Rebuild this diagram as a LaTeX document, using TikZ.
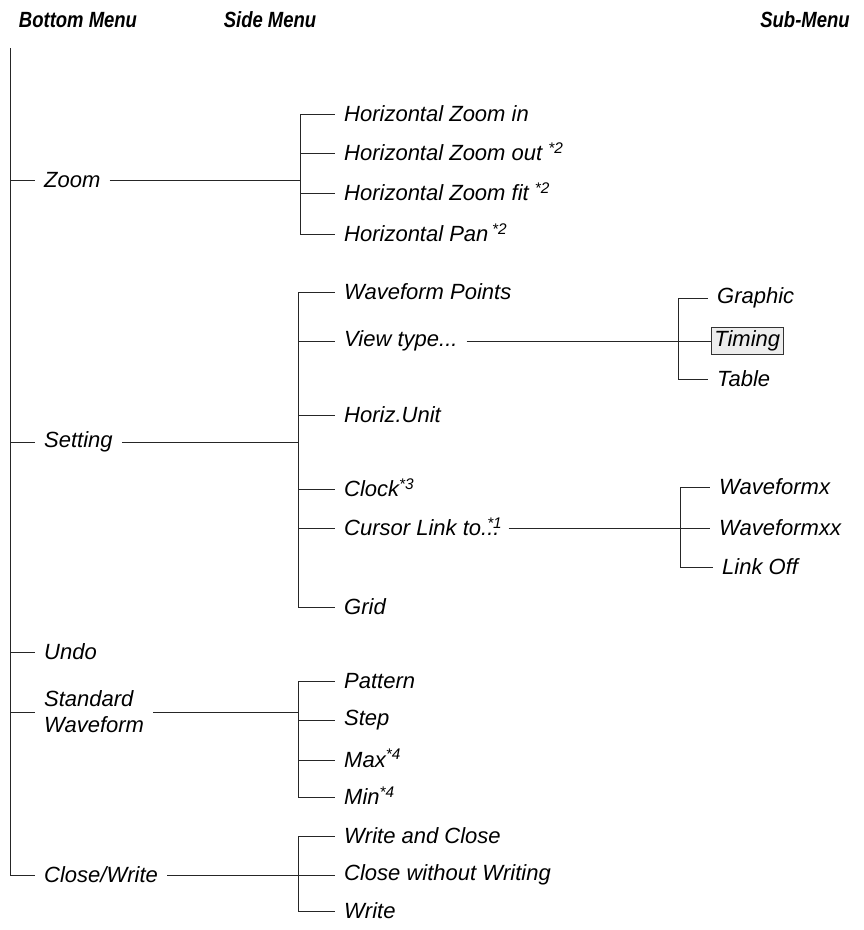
\documentclass[tikz,border=0pt]{standalone}
\usepackage{fontspec}
\setmainfont{Liberation Sans}
\newfontfamily\narrowfont[FakeStretch=0.84]{Liberation Sans}
\usepackage{tikz}

\newcommand\menufont{\fontsize{22}{26}\selectfont\itshape}
\newcommand\headfont{\narrowfont\fontsize{22}{25}\selectfont\bfseries\itshape}
\newcommand\note[1]{\smash{\textsuperscript{*#1}}}

\tikzset{
  menuitem/.style={anchor=west,inner xsep=9pt,inner ysep=2pt,font=\menufont},
  menuhead/.style={font=\headfont},
  tree/.style={line width=0.8pt,black!85},
  chosen/.style={menuitem,draw=black!80,fill=black!7,line width=0.6pt,inner xsep=3pt,inner ysep=3pt}
}

\begin{document}
\begin{tikzpicture}[x=1pt,y=-1pt]
  \useasboundingbox (0,0) rectangle (864,930);

  \node[menuhead] (hbottom) at (78,20) {Bottom Menu};
  \node[menuhead] (hside) at (270,20) {Side Menu};
  \node[menuhead] (hsub) at (805,20) {Sub-Menu};

  % bottom menu
  \coordinate (trunk) at (10,48);
  \node[menuitem] (zoom) at (35,180) {Zoom};
  \node[menuitem] (setting) at (35,442) {Setting};
  \node[menuitem] (undo) at (35,652) {Undo};
  \node[menuitem,align=left] (stdwave) at (35,712) {Standard\\Waveform};
  \node[menuitem] (closewr) at (35,875) {Close/Write};
  \draw[tree] (trunk) -- (trunk |- closewr);
  \foreach \n in {zoom,setting,undo,stdwave,closewr}
    \draw[tree] (trunk |- \n) -- (\n.west);

  % side menu: zoom
  \coordinate (zfork) at (300,180);
  \node[menuitem] (zin) at (335,114) {Horizontal Zoom in};
  \node[menuitem] (zout) at (335,153) {Horizontal Zoom out \note{2}};
  \node[menuitem] (zfit) at (335,193) {Horizontal Zoom fit \note{2}};
  \node[menuitem] (zpan) at (335,234) {Horizontal Pan\,\note{2}};
  \draw[tree] (zoom.east) -- (zfork);
  \draw[tree] (zfork |- zin) -- (zfork |- zpan);
  \foreach \n in {zin,zout,zfit,zpan}
    \draw[tree] (zfork |- \n) -- (\n.west);

  % side menu: setting
  \coordinate (sfork) at (298,442);
  \node[menuitem] (wpoints) at (335,292) {Waveform Points};
  \node[menuitem] (viewtype) at (335,341) {View type...};
  \node[menuitem] (hunit) at (335,415) {Horiz.Unit};
  \node[menuitem] (clock) at (335,489) {Clock\note{3}};
  \node[menuitem] (curlink) at (335,528) {Cursor Link to.\rlap{\note{1}}..};
  \node[menuitem] (grid) at (335,607) {Grid};
  \draw[tree] (setting.east) -- (sfork);
  \draw[tree] (sfork |- wpoints) -- (sfork |- grid);
  \foreach \n in {wpoints,viewtype,hunit,clock,curlink,grid}
    \draw[tree] (sfork |- \n) -- (\n.west);

  % sub-menu: view type
  \coordinate (vfork) at (678,341);
  \node[menuitem] (graphic) at (708,298) {Graphic};
  \node[chosen] (timing) at (711,341) {Timing};
  \node[menuitem] (table) at (708,379) {Table};
  \draw[tree] (viewtype.east) -- (vfork);
  \draw[tree] (vfork |- graphic) -- (vfork |- table);
  \foreach \n in {graphic,timing,table}
    \draw[tree] (vfork |- \n) -- (\n.west);

  % sub-menu: cursor link
  \coordinate (cfork) at (680,528);
  \node[menuitem] (wfx) at (710,487) {Waveformx};
  \node[menuitem] (wfxx) at (710,528) {Waveformxx};
  \node[menuitem] (linkoff) at (713,567) {Link Off};
  \draw[tree] (curlink.east) -- (cfork);
  \draw[tree] (cfork |- wfx) -- (cfork |- linkoff);
  \foreach \n in {wfx,wfxx,linkoff}
    \draw[tree] (cfork |- \n) -- (\n.west);

  % side menu: standard waveform
  \coordinate (wfork) at (298,712);
  \node[menuitem] (pattern) at (335,681) {Pattern};
  \node[menuitem] (stepitem) at (335,720) {Step};
  \node[menuitem] (maxitem) at (335,760) {Max\note{4}};
  \node[menuitem] (minitem) at (335,797) {Min\note{4}};
  \draw[tree] (stdwave.east) -- (wfork);
  \draw[tree] (wfork |- pattern) -- (wfork |- minitem);
  \foreach \n in {pattern,stepitem,maxitem,minitem}
    \draw[tree] (wfork |- \n) -- (\n.west);

  % side menu: close/write
  \coordinate (cwfork) at (298,875);
  \node[menuitem] (wrclose) at (335,836) {Write and Close};
  \node[menuitem] (nowrite) at (335,875) {Close without Writing};
  \node[menuitem] (writeonly) at (335,911) {Write};
  \draw[tree] (closewr.east) -- (cwfork);
  \draw[tree] (cwfork |- wrclose) -- (cwfork |- writeonly);
  \foreach \n in {wrclose,nowrite,writeonly}
    \draw[tree] (cwfork |- \n) -- (\n.west);
\end{tikzpicture}
\end{document}
